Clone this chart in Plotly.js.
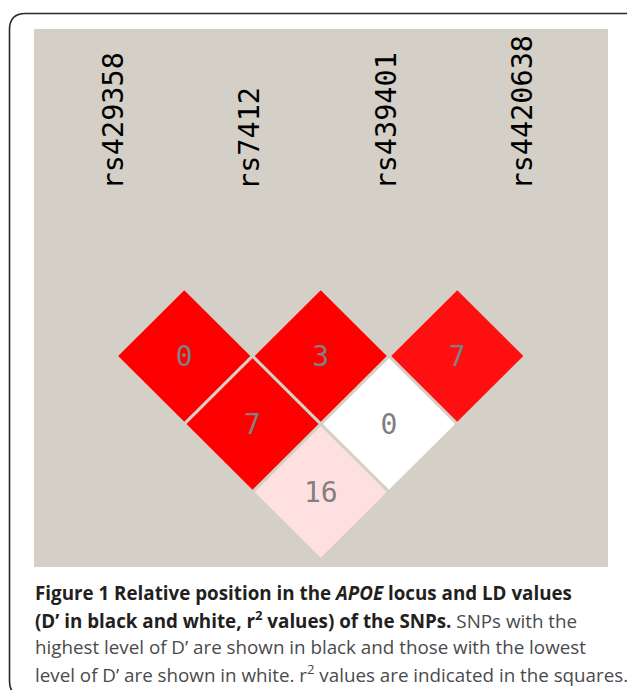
<!DOCTYPE html>
<html>
<head>
<meta charset="utf-8">
<script src="https://cdn.plot.ly/plotly-3.0.1.min.js"></script>
<style>
html,body{margin:0;padding:0;background:#ffffff;}
#chart{width:627px;height:690px;}
</style>
</head>
<body>
<div id="chart"></div>
<script>
// ---- data ----
const snpNames   = ['rs429358', 'rs7412', 'rs439401', 'rs4420638'];
const pairFirst  = [0, 1, 2, 0, 1, 0];
const pairSecond = [1, 2, 3, 2, 3, 3];
const r2Values   = [0, 3, 7, 7, 0, 16];
const redShade   = [1, 1, 0.94, 1, 0, 0.12];   // intensity of the D'/LOD red (0 = white)

const captionLines = [
  '<span style="color:#231f20"><b>Figure 1 Relative position in the <i>APOE</i> locus and LD values</b></span>',
  '<span style="color:#231f20"><b>(D\u2019 in black and white, r<sup>2</sup> values) of the SNPs.</b></span> SNPs with the',
  'highest level of D\u2019 are shown in black and those with the lowest',
  'level of D\u2019 are shown in white. r<sup>2</sup> values are indicated in the squares.'
];

// ---- geometry of the page (pixels) ----
const L = 34, R = 608, T = 29, B = 567;
const W = 627, H = 690;
const PW = R - L, PH = B - T;
const px2x = px => (px - L) / PW;
const py2y = py => (B - py) / PH;

// ---- diamonds ----
const half = 0.484;
const traces = [];
const cx = [], cy = [];
pairFirst.forEach((a, k) => {
  const b = pairSecond[k];
  const x0 = (a + b) / 2, y0 = -(b - a) / 2;
  cx.push(x0); cy.push(y0);
  const g = Math.round(255 * (1 - redShade[k]));
  traces.push({
    type: 'scatter', mode: 'lines',
    x: [x0 - half, x0, x0 + half, x0, x0 - half],
    y: [y0, y0 + half, y0, y0 - half, y0],
    fill: 'toself', fillcolor: 'rgb(255,' + g + ',' + g + ')',
    line: {width: 0}, hoverinfo: 'skip', showlegend: false
  });
});
traces.push({
  type: 'scatter', mode: 'text',
  x: cx, y: cy.map(v => v - 0.02),
  text: r2Values.map(String),
  textposition: 'middle center',
  textfont: {family: 'DejaVu Sans Mono', size: 28, color: '#808080'},
  hoverinfo: 'skip', showlegend: false
});

// ---- annotations ----
const annotations = [];
snpNames.forEach((name, i) => {
  annotations.push({
    xref: 'x', yref: 'y', x: i, y: 0.706,
    xshift: -3,
    text: name, textangle: -90, showarrow: false,
    xanchor: 'center', yanchor: 'bottom',
    font: {family: 'DejaVu Sans Mono', size: 28.5, color: '#000000'}
  });
});
const captionY = [593, 620, 647, 674];
captionLines.forEach((t, i) => {
  annotations.push({
    xref: 'paper', yref: 'paper', x: px2x(33), y: py2y(captionY[i]),
    xanchor: 'left', yanchor: 'middle', showarrow: false, align: 'left',
    text: t,
    font: {family: 'Open Sans', size: 18.8, color: '#4a4a4c'}
  });
});

// ---- rounded frame ----
const fx0 = 9.5, fy0 = 13.5, fx1 = 641, fy1 = 697, rad = 16;
const P = (px, py) => px2x(px).toFixed(5) + ',' + py2y(py).toFixed(5);
const framePath =
  'M' + P(fx0, fy1 - rad) +
  ' L' + P(fx0, fy0 + rad) +
  ' Q' + P(fx0, fy0) + ' ' + P(fx0 + rad, fy0) +
  ' L' + P(fx1 - rad, fy0) +
  ' Q' + P(fx1, fy0) + ' ' + P(fx1, fy0 + rad) +
  ' L' + P(fx1, fy1 - rad) +
  ' Q' + P(fx1, fy1) + ' ' + P(fx1 - rad, fy1) +
  ' L' + P(fx0 + rad, fy1) +
  ' Q' + P(fx0, fy1) + ' ' + P(fx0, fy1 - rad) + ' Z';

// axis ranges so that one unit is ~136 px
const xPerUnit = 136.5, x0px = 116;
const yPerUnit = 136, y0px = 288;
const layout = {
  width: W, height: H,
  margin: {l: L, r: W - R, t: T, b: H - B, pad: 0},
  paper_bgcolor: '#ffffff',
  plot_bgcolor: '#d4d0c8',
  xaxis: {range: [(L - x0px) / xPerUnit, (R - x0px) / xPerUnit], visible: false, fixedrange: true},
  yaxis: {range: [(y0px - B) / yPerUnit, (y0px - T) / yPerUnit], visible: false, fixedrange: true},
  showlegend: false,
  hovermode: false,
  annotations: annotations,
  shapes: [{
    type: 'path', xref: 'paper', yref: 'paper', path: framePath,
    line: {color: '#2a2a2a', width: 1.6}, fillcolor: 'rgba(0,0,0,0)', layer: 'below'
  }]
};

Plotly.newPlot('chart', traces, layout, {staticPlot: true, displayModeBar: false});
</script>
</body>
</html>
